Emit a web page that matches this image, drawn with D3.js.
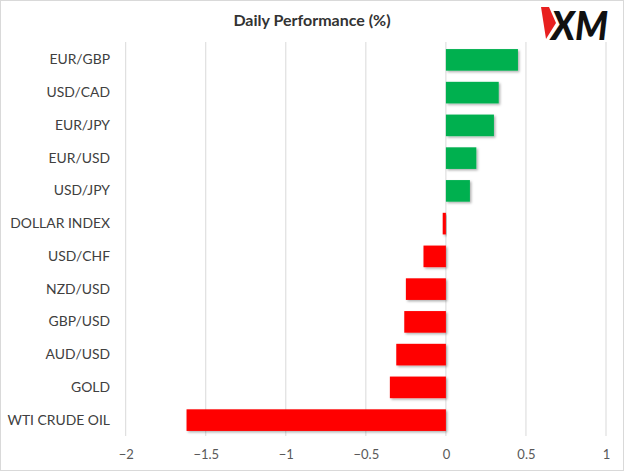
<!DOCTYPE html>
<html><head><meta charset="utf-8">
<script src="https://cdn.jsdelivr.net/npm/d3@7/dist/d3.min.js"></script>
<style>body{margin:0;background:#fff}svg{display:block}</style>
</head><body>
<svg id="c" width="624" height="471"></svg>
<script>
const categories = ["EUR/GBP","USD/CAD","EUR/JPY","EUR/USD","USD/JPY","DOLLAR INDEX","USD/CHF","NZD/USD","GBP/USD","AUD/USD","GOLD","WTI CRUDE OIL"];
const values = [0.45, 0.33, 0.30, 0.19, 0.15, -0.02, -0.14, -0.25, -0.26, -0.31, -0.35, -1.62];
const tickValues = [-2, -1.5, -1, -0.5, 0, 0.5, 1];
const title = "Daily Performance (%)";

const svg = d3.select("#c");
const W = 624, H = 471;
const m = {left: 125.7, right: 18, top: 43.5, bottom: 34.5};
const font = "Lato, 'Open Sans', sans-serif";

svg.append("rect").attr("x",0.5).attr("y",0.5).attr("width",W-1).attr("height",H-1)
  .attr("fill","#fff").attr("stroke","#d9d9d9");

const defs = svg.append("defs");
const f = defs.append("filter").attr("id","sh").attr("x","-10%").attr("y","-20%").attr("width","130%").attr("height","160%");
f.append("feDropShadow").attr("dx",1.5).attr("dy",1.5).attr("stdDeviation",1.2).attr("flood-color","#000").attr("flood-opacity",0.3);

const x = d3.scaleLinear().domain([-2, 1]).range([m.left, 606]);
const y = d3.scaleBand().domain(categories).range([m.top, H - m.bottom]).paddingInner(0.34).paddingOuter(0.17);

// gridlines
svg.append("g").selectAll("line").data(tickValues).join("line")
  .attr("x1", d => x(d)).attr("x2", d => x(d))
  .attr("y1", 42).attr("y2", 436)
  .attr("stroke", "#d9d9d9").attr("stroke-width", 1);

// bars
svg.append("g").selectAll("rect").data(values).join("rect")
  .attr("x", d => x(Math.min(0, d)))
  .attr("width", d => Math.abs(x(d) - x(0)))
  .attr("y", (d, i) => y(categories[i]))
  .attr("height", y.bandwidth())
  .attr("fill", d => d >= 0 ? "#00b050" : "#ff0000")
  .attr("filter", "url(#sh)");

// x axis labels
const xa = d3.axisBottom(x).tickValues(tickValues).tickSize(0).tickPadding(0).tickFormat(d3.format("~g"));
const gx = svg.append("g").attr("transform", `translate(0,${450})`).call(xa);
gx.select(".domain").remove();
gx.selectAll("text").attr("font-family", font).attr("font-size", 13).attr("fill", "#595959").attr("dy","0.71em");

// y axis labels
const ya = d3.axisLeft(y).tickSize(0).tickPadding(0);
const gy = svg.append("g").attr("transform", `translate(110,0)`).call(ya);
gy.select(".domain").remove();
gy.selectAll("text").attr("font-family", font).attr("font-size", 13.9).attr("fill", "#404040");

// title
svg.append("text").attr("x", 312).attr("y", 26).attr("text-anchor","middle")
  .attr("font-family", font).attr("font-size", 16).attr("font-weight","bold").attr("fill","#333")
  .text(title);

// logo
const lg = svg.append("g");
lg.append("polygon").attr("points","541,7 549,7 556,23 546,39").attr("fill","#e8201f");
lg.append("text").attr("x", 551).attr("y", 40)
  .attr("font-family","Lato, 'DejaVu Sans', sans-serif").attr("font-size", 39).attr("font-weight","900")
  .attr("font-style","italic").attr("fill","#111")
  .attr("textLength", 57).attr("lengthAdjust","spacingAndGlyphs")
  .text("XM");
</script>
</body></html>
